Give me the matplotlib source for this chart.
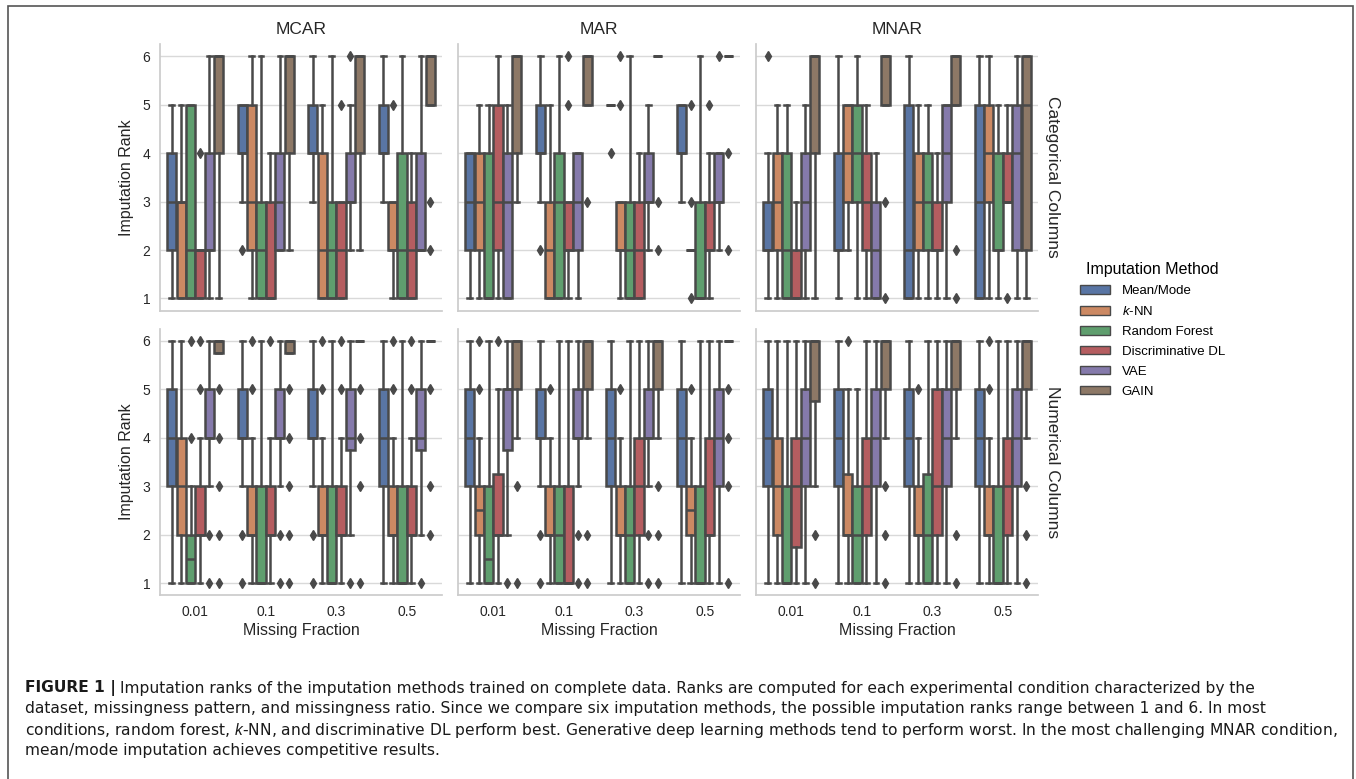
import colorsys
import matplotlib
matplotlib.use('Agg')
import matplotlib.pyplot as plt
from matplotlib.colors import to_rgb
from matplotlib.patches import Patch, Rectangle

plt.rcParams['font.family'] = ['Liberation Sans', 'DejaVu Sans']
plt.rcParams['mathtext.fontset'] = 'custom'
plt.rcParams['mathtext.it'] = 'Liberation Sans:italic'
plt.rcParams['mathtext.rm'] = 'Liberation Sans'

methods = ['Mean/Mode', '$k$-NN', 'Random Forest', 'Discriminative DL', 'VAE', 'GAIN']
fractions = ['0.01', '0.1', '0.3', '0.5']
patterns = ['MCAR', 'MAR', 'MNAR']
col_types = ['Categorical Columns', 'Numerical Columns']

# (whislo, q1, med, q3, whishi) per fraction, per method
mcar_cat = [
    [(1, 2, 3, 4, 5), (1, 1, 3, 3, 5), (1, 1, 2, 5, 5), (1, 1, 2, 2, 2), (1, 2, 2, 4, 6), (1, 4, 6, 6, 6)],
    [(3, 4, 4, 5, 5), (1, 2, 3, 5, 6), (1, 1, 2, 3, 6), (1, 1, 1, 3, 4), (2, 2, 3, 4, 6), (2, 4, 6, 6, 6)],
    [(3, 4, 4, 5, 6), (1, 1, 2, 4, 5), (1, 1, 2, 3, 6), (1, 1, 2, 3, 3), (2, 3, 3, 4, 5), (2, 4, 6, 6, 6)],
    [(3, 4, 4, 5, 6), (1, 2, 2, 3, 3), (1, 1, 2, 4, 6), (1, 1, 2, 3, 4), (2, 2, 2, 4, 6), (5, 5, 6, 6, 6)],
]
mcar_cat_fliers = [
    [[], [], [], [4], [], []],
    [[2], [], [], [], [], []],
    [[], [], [], [5], [6], []],
    [[], [5], [], [], [], [2, 3]],
]
mar_cat = [
    [(1, 2, 3, 4, 4), (1, 2, 3, 4, 5), (1, 1, 1, 4, 5), (1, 2, 3, 5, 6), (1, 1, 3, 4, 5), (3, 4, 6, 6, 6)],
    [(3, 4, 4, 5, 6), (1, 1, 2, 3, 5), (1, 1, 3, 4, 6), (1, 2, 2, 3, 3), (1, 2, 3, 4, 4), (5, 5, 6, 6, 6)],
    [(5, 5, 5, 5, 5), (1, 2, 2, 3, 3), (1, 1, 2, 3, 6), (1, 1, 2, 3, 4), (2, 3, 3, 4, 5), (6, 6, 6, 6, 6)],
    [(3, 4, 4, 5, 5), (2, 2, 2, 2, 2), (1, 1, 1, 3, 6), (1, 2, 2, 3, 4), (2, 3, 3, 4, 4), (6, 6, 6, 6, 6)],
]
mar_cat_fliers = [
    [[], [], [], [], [], []],
    [[2], [], [], [5, 6], [], [3]],
    [[4], [5, 6], [], [], [], [2, 3]],
    [[], [1, 3, 5], [], [5], [6], [2, 4]],
]
mnar_cat = [
    [(1, 2, 2, 3, 4), (1, 2, 3, 4, 5), (1, 1, 2, 4, 5), (1, 1, 1, 2, 3), (1, 2, 3, 4, 5), (1, 4, 6, 6, 6)],
    [(1, 2, 2, 4, 6), (2, 3, 4, 5, 5), (1, 3, 4, 5, 6), (1, 2, 3, 4, 5), (1, 1, 2, 3, 4), (5, 5, 6, 6, 6)],
    [(1, 1, 2, 5, 6), (1, 2, 3, 4, 5), (1, 2, 3, 4, 5), (1, 2, 2, 3, 4), (1, 3, 4, 5, 5), (5, 5, 6, 6, 6)],
    [(1, 1, 3, 5, 6), (1, 3, 4, 5, 6), (1, 2, 2, 4, 5), (3, 3, 3, 4, 5), (1, 2, 4, 5, 6), (1, 2, 5, 6, 6)],
]
mnar_cat_fliers = [
    [[6], [], [], [], [], []],
    [[], [], [], [], [], [1, 3]],
    [[], [], [], [], [], [1, 2]],
    [[], [], [], [1], [], []],
]
mcar_num = [
    [(1, 3, 4, 5, 6), (1, 2, 3, 4, 6), (1, 1, 1.5, 2, 3), (1, 2, 2, 3, 4), (3, 4, 4, 5, 6), (5.75, 5.75, 6, 6, 6)],
    [(3, 4, 4, 5, 6), (1, 2, 2, 3, 4), (1, 1, 1, 3, 6), (1, 2, 2, 3, 4), (3, 4, 4, 5, 6), (5.75, 5.75, 6, 6, 6)],
    [(3, 4, 4, 5, 6), (1, 2, 2, 3, 4), (1, 1, 1, 3, 6), (1, 2, 2, 3, 4), (2, 3.75, 4, 5, 6), (6, 6, 6, 6, 6)],
    [(1, 3, 4, 5, 6), (1, 2, 2, 3, 4), (1, 1, 1, 3, 6), (1, 2, 2, 3, 4), (2, 3.75, 4, 5, 6), (6, 6, 6, 6, 6)],
]
mcar_num_fliers = [
    [[], [], [4, 6], [5, 6], [1, 2], [1, 2, 3, 4, 5]],
    [[1, 2], [5, 6], [], [6], [1, 2], [1, 2, 3, 4, 5]],
    [[1, 2], [5, 6], [], [5, 6], [1], [1, 3, 4, 5]],
    [[], [5, 6], [], [5, 6], [1], [2, 3, 5]],
]
mar_num = [
    [(1, 3, 4, 5, 6), (1, 2, 2.5, 3, 4), (1, 1, 1.5, 3, 6), (1, 2, 2, 3.25, 5), (2, 3.75, 5, 5, 6), (4, 5, 6, 6, 6)],
    [(3, 4, 4, 5, 6), (1, 2, 2, 3, 4), (1, 1, 2, 3, 6), (1, 1, 1, 3, 6), (3, 4, 4, 5, 6), (4, 5, 6, 6, 6)],
    [(1, 3, 4, 5, 6), (1, 2, 2, 3, 4), (1, 1, 2, 3, 6), (1, 2, 3, 4, 6), (3, 4, 4, 5, 6), (4, 5, 6, 6, 6)],
    [(1, 3, 4, 5, 6), (1, 2, 2.5, 3, 4), (1, 1, 1, 3, 6), (1, 2, 2, 4, 6), (1, 3, 4, 5, 6), (6, 6, 6, 6, 6)],
]
mar_num_fliers = [
    [[], [5, 6], [], [6], [1], [1, 3]],
    [[1, 2], [5], [], [], [1, 2], [1, 2]],
    [[], [5], [], [], [1, 2], [1, 2, 3]],
    [[], [5], [], [], [], [1, 3, 4, 5]],
]
mnar_num = [
    [(1, 3, 4, 5, 6), (1, 2, 3, 4, 6), (1, 1, 1, 3, 6), (1, 1.75, 3, 4, 6), (1, 3, 4, 5, 6), (3, 4.75, 6, 6, 6)],
    [(1, 3, 4, 5, 6), (1, 2, 2, 3.25, 5), (1, 1, 2, 3, 5), (1, 2, 3, 4, 6), (1, 3, 4, 5, 6), (4, 5, 6, 6, 6)],
    [(1, 3, 4, 5, 6), (1, 2, 2, 3, 4), (1, 1, 2, 3.25, 6), (1, 2, 3, 5, 6), (1, 3, 4, 5, 6), (4, 5, 6, 6, 6)],
    [(1, 3, 4, 5, 6), (1, 2, 2, 3, 4), (1, 1, 1, 3, 6), (1, 2, 3, 4, 6), (1, 3, 4, 5, 6), (4, 5, 6, 6, 6)],
]
mnar_num_fliers = [
    [[], [], [], [], [], [1, 2]],
    [[], [6], [], [], [], [1, 2, 3]],
    [[], [5], [], [], [], [1, 2]],
    [[], [5, 6], [], [], [], [1, 2, 3]],
]

panels = [
    [(mcar_cat, mcar_cat_fliers), (mar_cat, mar_cat_fliers), (mnar_cat, mnar_cat_fliers)],
    [(mcar_num, mcar_num_fliers), (mar_num, mar_num_fliers), (mnar_num, mnar_num_fliers)],
]

caption_bold = 'FIGURE 1 |'
caption_lines = [
    'Imputation ranks of the imputation methods trained on complete data. Ranks are computed for each '
    'experimental condition characterized by the',
    'dataset, missingness pattern, and missingness ratio. Since we compare six imputation methods, the '
    'possible imputation ranks range between 1 and 6. In most',
    'conditions, random forest, $k$-NN, and discriminative DL perform best. Generative deep learning '
    'methods tend to perform worst. In the most challenging MNAR condition,',
    'mean/mode imputation achieves competitive results.',
]

# seaborn-like desaturated "deep" palette
deep = ['#4C72B0', '#DD8452', '#55A868', '#C44E52', '#8172B3', '#937860']
colors = []
for c in deep:
    h, l, s = colorsys.rgb_to_hls(*to_rgb(c))
    colors.append(colorsys.hls_to_rgb(h, l, s * 0.75))
lum = min(colorsys.rgb_to_hls(*c)[1] for c in colors) * 0.6
gray = (lum, lum, lum)

W, H = 1356, 779
fig = plt.figure(figsize=(W / 100, H / 100), dpi=100)

lefts = [160, 458, 756]
tops = [44, 328.6]
aw, ah = 282, 266.6
bw = 0.8 / len(methods)
lw = 1.8

for r in range(2):
    for c in range(3):
        ax = fig.add_axes([lefts[c] / W, 1 - (tops[r] + ah) / H, aw / W, ah / H])
        box_data, fliers = panels[r][c]
        stats, pos, fcols = [], [], []
        for i in range(len(fractions)):
            for j in range(len(methods)):
                lo, q1, med, q3, hi = box_data[i][j]
                stats.append(dict(whislo=lo, q1=q1, med=med, q3=q3, whishi=hi, fliers=fliers[i][j]))
                pos.append(i - 0.4 + bw * (j + 0.5))
                fcols.append(colors[j])
        bp = ax.bxp(stats, positions=pos, widths=bw * 0.98, patch_artist=True,
                    boxprops=dict(edgecolor=gray, linewidth=lw),
                    whiskerprops=dict(color=gray, linewidth=lw),
                    capprops=dict(color=gray, linewidth=lw),
                    medianprops=dict(color=gray, linewidth=lw),
                    flierprops=dict(marker='d', markerfacecolor=gray, markeredgecolor=gray,
                                    markersize=5.5, linestyle='none'))
        for patch, fc in zip(bp['boxes'], fcols):
            patch.set_facecolor(fc)

        ax.set_xlim(-0.5, 3.5)
        ax.set_ylim(0.75, 6.25)
        ax.set_yticks([1, 2, 3, 4, 5, 6])
        ax.set_xticks(range(len(fractions)))
        ax.set_xticklabels(fractions)
        ax.set_axisbelow(True)
        ax.grid(axis='y', color='#d9d9d9', linewidth=1)
        ax.tick_params(length=0, labelsize=10, labelcolor='#262626', pad=7)
        for side in ['top', 'right']:
            ax.spines[side].set_visible(False)
        for side in ['left', 'bottom']:
            ax.spines[side].set_color('#cccccc')
            ax.spines[side].set_linewidth(1.25)
        if c == 0:
            ax.set_ylabel('Imputation Rank', fontsize=11.5, color='#262626', labelpad=6)
        else:
            ax.tick_params(labelleft=False)
        if r == 0:
            ax.set_title(patterns[c], fontsize=12.5, color='#262626', pad=7)
            ax.tick_params(labelbottom=False)
        else:
            ax.set_xlabel('Missing Fraction', fontsize=11.5, color='#262626', labelpad=3)
        if c == 2:
            ax.text(1.025, 0.5, col_types[r], transform=ax.transAxes, rotation=270,
                    ha='left', va='center', fontsize=12.5, color='#262626')

handles = [Patch(facecolor=colors[j], edgecolor=gray, linewidth=1, label=methods[j])
           for j in range(len(methods))]
leg = fig.legend(handles=handles, loc='center left', bbox_to_anchor=(1080 / W, 1 - 330 / H),
                 frameon=False, fontsize=9.5, title='Imputation Method', title_fontsize=11.5,
                 handlelength=2.3, handleheight=0.6, handletextpad=0.85, labelspacing=0.6,
                 borderpad=0, borderaxespad=0)

# caption: font size chosen so that the longest lines fit the widths seen in the figure
renderer = fig.canvas.get_renderer()
cap_x = 25
cap_right = [1296, 1310, 1341]
ratios = []
for k in range(3):
    txt = caption_bold + ' ' + caption_lines[k] if k == 0 else caption_lines[k]
    probe = fig.text(0, 0, txt, family='DejaVu Sans', fontsize=10,
                     fontweight='normal')
    ratios.append((cap_right[k] - cap_x) / probe.get_window_extent(renderer).width)
    probe.remove()
size = 10 * min(ratios)

cap_y = [688, 709, 730, 750]
tb = fig.text(cap_x / W, 1 - cap_y[0] / H, caption_bold, family='DejaVu Sans', fontweight='bold',
              fontsize=size, va='center', color='#1a1a1a')
x1 = tb.get_window_extent(renderer).x1 + size * 0.35
fig.text(x1 / W, 1 - cap_y[0] / H, caption_lines[0], family='DejaVu Sans', fontsize=size,
         va='center', color='#1a1a1a')
for k in range(1, 4):
    fig.text(cap_x / W, 1 - cap_y[k] / H, caption_lines[k], family='DejaVu Sans', fontsize=size,
             va='center', color='#1a1a1a')

# outer frame
fig.patches.append(Rectangle((8 / W, -0.05), (1353 - 8) / W, 1.05 - 6 / H, transform=fig.transFigure,
                             fill=False, edgecolor='#555555', linewidth=1.2))

fig.savefig('out.png', dpi=100)
